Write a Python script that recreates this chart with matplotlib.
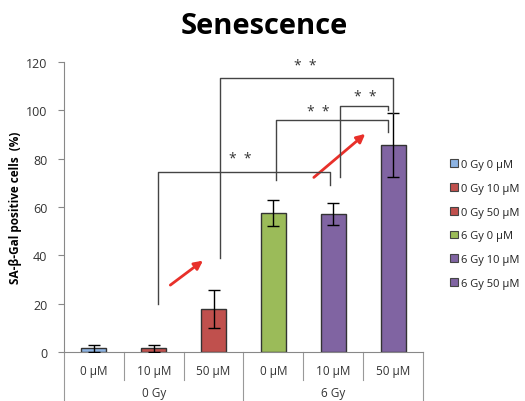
import matplotlib
matplotlib.use("Agg")
import matplotlib.pyplot as plt
import numpy as np

plt.rcParams['font.family'] = ['Open Sans', 'DejaVu Sans']

# data
doses = ["0 μM", "10 μM", "50 μM", "0 μM", "10 μM", "50 μM"]
groups = ["0 Gy", "6 Gy"]
legend_labels = ["0 Gy 0 μM", "0 Gy 10 μM", "0 Gy 50 μM", "6 Gy 0 μM", "6 Gy 10 μM", "6 Gy 50 μM"]
values = [1.5, 1.5, 17.8, 57.5, 57.0, 85.5]
errors = [1.5, 1.5, 7.7, 5.3, 4.5, 13.2]
colors = ["#8DB3E2", "#C0504D", "#C0504D", "#9BBB59", "#8064A2", "#8064A2"]

# significance brackets: (x left, y left bottom, x right, y right bottom, y top, label)
brackets = [
    (1.07, 20, 3.95, 69, 74.5, "*  *"),
    (2.11, 39, 5.0, 99, 113.5, "*  *"),
    (3.05, 71, 4.92, 91, 96, "*  *"),
    (4.12, 72.5, 4.92, 100, 102, "*  *"),
]
label_pos = [(2.44, 80), (3.53, 118.5), (3.75, 99.5), (4.53, 105.8)]
arrows = [((1.24, 27), (1.86, 38.5)), ((3.64, 71.5), (4.57, 91))]

fig = plt.figure(figsize=(5.25, 4.02), dpi=100)
ax = fig.add_axes([64/525, 1-353/402, (423-64)/525, (353-63)/402])

x = np.arange(len(values))
bars = ax.bar(x, values, width=0.42, color=colors, edgecolor="#333333", linewidth=1.0, zorder=2)
ax.errorbar(x, values, yerr=errors, fmt="none", ecolor="black", elinewidth=1, capsize=4, capthick=1, zorder=3)

ax.set_xlim(-0.5, 5.5)
ax.set_ylim(0, 120)
ax.set_yticks(np.arange(0, 121, 20))
ax.tick_params(axis="y", labelsize=9, length=4, color="#888888", labelcolor="#333333", pad=8)
ax.set_xticks([])
for s in ["top", "right"]:
    ax.spines[s].set_visible(False)
ax.spines["left"].set_color("#888888")
ax.spines["bottom"].set_color("#888888")
ax.set_ylabel("SA-β-Gal positive cells  (%)", fontsize=8.5, fontweight="bold", labelpad=3)

# category axis table
tr = ax.get_xaxis_transform()
for i, d in enumerate(doses):
    ax.text(i, -0.065, d, transform=tr, ha="center", va="center", fontsize=8.5, color="#333333", clip_on=False)
for i, g in enumerate(groups):
    ax.text(1 + 3 * i, -0.14, g, transform=tr, ha="center", va="center", fontsize=8.5, color="#333333", clip_on=False)
for b in [0.5, 1.5, 3.5, 4.5]:
    ax.plot([b, b], [0, -0.095], transform=tr, color="#999999", lw=0.8, clip_on=False)
for b in [-0.5, 2.5, 5.5]:
    ax.plot([b, b], [0, -0.2], transform=tr, color="#999999", lw=0.8, clip_on=False)

# brackets
for (x1, y1, x2, y2, yt, lab), (tx, ty) in zip(brackets, label_pos):
    ax.plot([x1, x1, x2, x2], [y1, yt, yt, y2], color="#444444", lw=1, zorder=4, clip_on=False)
    ax.text(tx, ty, lab, ha="center", va="center", fontsize=10, color="#333333", clip_on=False)

for (p0, p1) in arrows:
    ax.annotate("", xy=p1, xytext=p0,
                arrowprops=dict(arrowstyle="-|>,head_length=0.5,head_width=0.25", color="#E8302A", lw=2))

handles = [plt.Rectangle((0, 0), 1, 1, facecolor=c, edgecolor="#444444", lw=0.8) for c in colors]
fig.legend(handles, legend_labels, loc="upper left", bbox_to_anchor=(440/525, 1-150/402),
           frameon=False, fontsize=8, handlelength=0.7, handleheight=0.7, handletextpad=0.3,
           labelspacing=1.15, labelcolor="#222222")

fig.text(264/525, 1-27/402, "Senescence", ha="center", va="center", fontsize=21, fontweight="bold")

fig.savefig("out.png", dpi=100)
